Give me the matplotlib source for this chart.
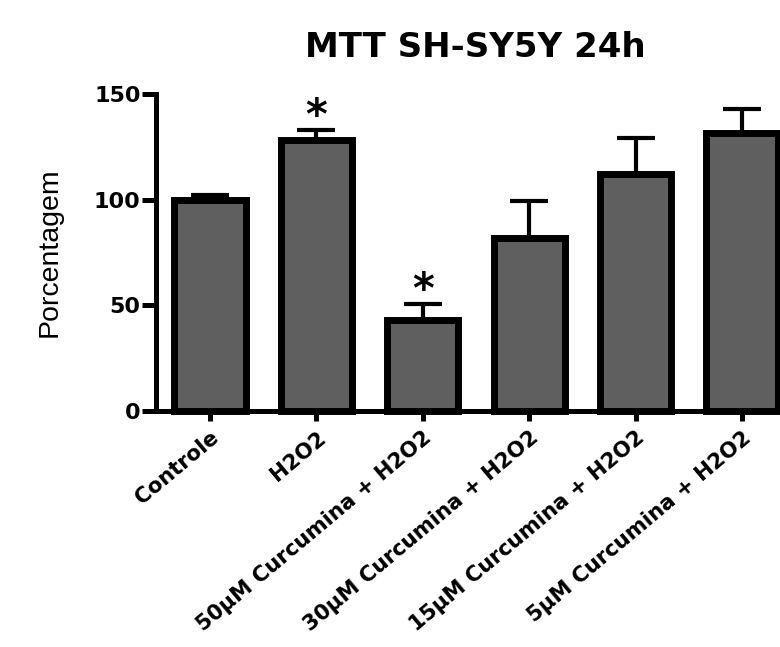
import matplotlib
matplotlib.use("Agg")
import matplotlib.pyplot as plt

categories = ["Controle", "H2O2", "50\u03bcM Curcumina + H2O2", "30\u03bcM Curcumina + H2O2",
              "15\u03bcM Curcumina + H2O2", "5\u03bcM Curcumina + H2O2"]
means = [100, 128, 43, 82, 112, 131.5]
errors = [2, 5, 7.6, 17.2, 17, 11.5]
significant = [False, True, True, False, False, False]
yticks = [0, 50, 100, 150]
title = "MTT SH-SY5Y 24h"
ylabel = "Porcentagem"

fig = plt.figure(figsize=(7.8, 6.47), dpi=100)
ax = fig.add_axes([0.2, 0.3648, 0.8, 0.4899])

x = list(range(len(categories)))
ax.errorbar(x, means, yerr=[[0] * len(errors), errors], fmt="none", ecolor="black",
            elinewidth=3, capsize=14, capthick=3, zorder=2, clip_on=False)
ax.bar(x, means, width=0.67, color="#5f5f5f", edgecolor="black", linewidth=5,
       zorder=3, clip_on=False)

for i, (m, e, s) in enumerate(zip(means, errors, significant)):
    if s:
        ax.annotate("*", xy=(i, m + e), xytext=(0, 1), textcoords="offset points",
                    ha="center", va="baseline", fontsize=30, fontweight="bold",
                    annotation_clip=False)

ax.set_xlim(-0.508, 5.357)
ax.set_ylim(0, 150)
ax.set_yticks(yticks)
ax.set_xticks(x)
ax.set_xticklabels(categories, rotation=40, ha="right", va="top",
                   rotation_mode="anchor", fontsize=15.3, fontweight="bold")
for lab in ax.get_yticklabels():
    lab.set_fontsize(16)
    lab.set_fontweight("bold")

for side in ["top", "right"]:
    ax.spines[side].set_visible(False)
ax.spines["left"].set_linewidth(3.6)
ax.spines["bottom"].set_linewidth(3.6)
ax.spines["left"].set_bounds(0, 150)
ax.tick_params(axis="y", direction="out", length=10, width=3.6, pad=1)
ax.tick_params(axis="x", direction="out", length=7, width=3.6, pad=5)

ax.set_ylabel(ylabel, fontsize=20.5, family="Liberation Sans")
ax.yaxis.set_label_coords(-0.149, 0.5)

fig.text(0.610, 1 - 57 / 647, title, ha="center", va="baseline",
         fontsize=24.5, fontweight="bold")

fig.savefig("out.png", dpi=100)
